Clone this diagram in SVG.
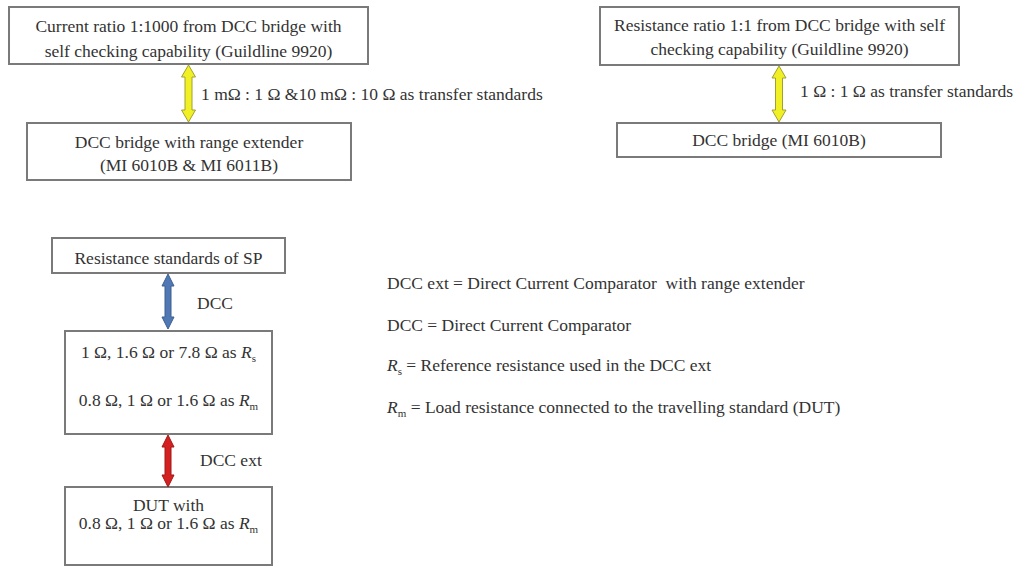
<svg xmlns="http://www.w3.org/2000/svg" width="1017" height="567" viewBox="0 0 1017 567">
<style>
.box{fill:#fff;stroke:#7a7a7a;stroke-width:2}
text{font-family:"Liberation Serif","Times New Roman",serif;font-size:17.5px;fill:#333}
.c{text-anchor:middle}
.yel{fill:#f0f024;stroke:#a0a030;stroke-width:1}
.blu{fill:#4f78b4;stroke:#3d5f90;stroke-width:1}
.red{fill:#d42020;stroke:#a01818;stroke-width:1}
.sub{font-size:11px}
</style>
<rect width="1017" height="567" fill="#fff"/>
<g id="n1"><rect class="box" x="9" y="7" width="359" height="57"/>
<text class="c" x="188.5" y="32">Current ratio 1:1000 from DCC bridge with</text>
<text class="c" x="188.5" y="57">self checking capability (Guildline 9920)</text></g>
<g id="n2"><rect class="box" x="27" y="123" width="324" height="57"/>
<text class="c" x="189" y="148">DCC bridge with range extender</text>
<text class="c" x="189" y="171">(MI 6010B &amp; MI 6011B)</text></g>
<g id="n3"><rect class="box" x="600" y="7" width="359" height="58"/>
<text class="c" x="779.5" y="31">Resistance ratio 1:1 from DCC bridge with self</text>
<text class="c" x="779.5" y="55">checking capability (Guildline 9920)</text></g>
<g id="n4"><rect class="box" x="617" y="123" width="324" height="34"/>
<text class="c" x="779" y="146">DCC bridge (MI 6010B)</text></g>
<g id="n5"><rect class="box" x="52" y="238" width="233" height="35"/>
<text class="c" x="168.5" y="264">Resistance standards of SP</text></g>
<g id="n6"><rect class="box" x="65" y="331" width="207" height="103"/>
<text class="c" x="168.5" y="358">1 Ω, 1.6 Ω or 7.8 Ω as <tspan font-style="italic">R</tspan><tspan class="sub" dy="4">s</tspan></text>
<text class="c" x="168.5" y="406">0.8 Ω, 1 Ω or 1.6 Ω as <tspan font-style="italic">R</tspan><tspan class="sub" dy="4">m</tspan></text></g>
<g id="n7"><rect class="box" x="65" y="487" width="207" height="78"/>
<text class="c" x="168.5" y="511">DUT with</text>
<text class="c" x="168.5" y="529">0.8 Ω, 1 Ω or 1.6 Ω as <tspan font-style="italic">R</tspan><tspan class="sub" dy="4">m</tspan></text></g>
<g id="connectors">
<polygon class="yel" points="188.5,65 195.5,77 192,77 192,110 195.5,110 188.5,122 181.5,110 185,110 185,77 181.5,77"/>
<text x="201" y="100">1 mΩ : 1 Ω &amp;10 mΩ : 10 Ω as transfer standards</text>
<polygon class="yel" points="779,66 786,78 782.5,78 782.5,110 786,110 779,122 772,110 775.5,110 775.5,78 772,78"/>
<text x="800" y="97">1 Ω : 1 Ω as transfer standards</text>
<polygon class="blu" points="168,274 174,286 171,286 171,317 174,317 168,329 162,317 165,317 165,286 162,286"/>
<text x="197" y="309">DCC</text>
<polygon class="red" points="168,435 174,447 171,447 171,475 174,475 168,487 162,475 165,475 165,447 162,447"/>
<text x="200" y="466">DCC ext</text>
</g>
<g id="legend">
<text x="387" y="289" xml:space="preserve">DCC ext = Direct Current Comparator  with range extender</text>
<text x="387" y="331">DCC = Direct Current Comparator</text>
<text x="387" y="371"><tspan font-style="italic">R</tspan><tspan class="sub" dy="4">s</tspan><tspan dy="-4"> = Reference resistance used in the DCC ext</tspan></text>
<text x="387" y="413"><tspan font-style="italic">R</tspan><tspan class="sub" dy="4">m</tspan><tspan dy="-4"> = Load resistance connected to the travelling standard (DUT)</tspan></text>
</g>
</svg>
